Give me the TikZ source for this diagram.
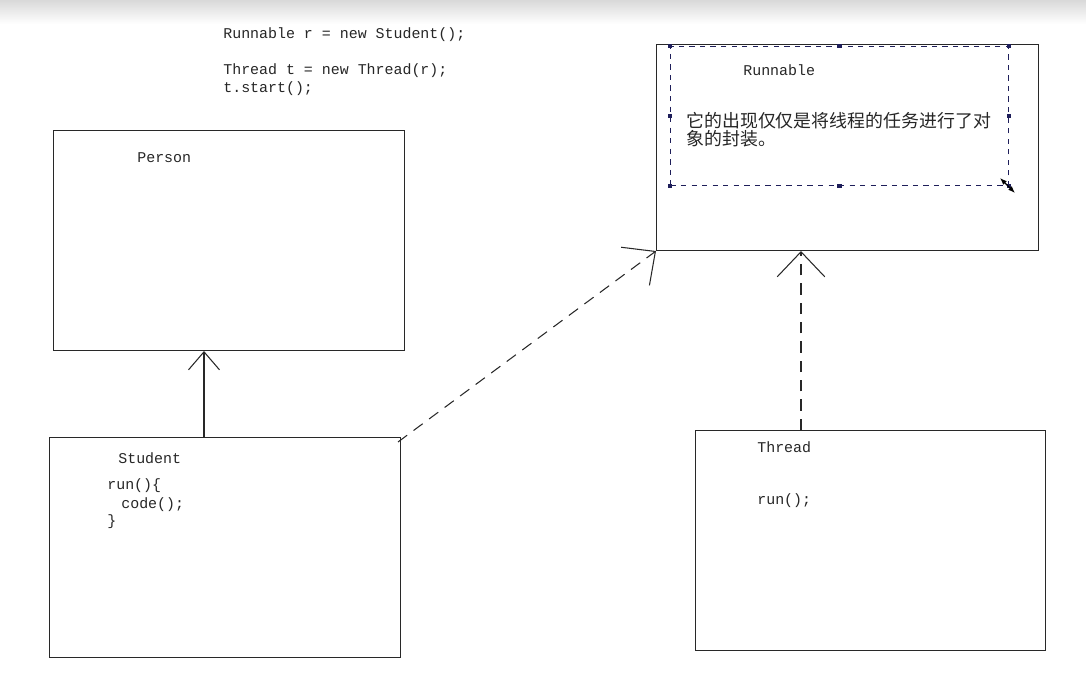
\documentclass[tikz,border=0pt]{standalone}
\usepackage{fontspec}
\usepackage{xcolor}
\usepackage{tikz}
\setmonofont{Liberation Mono}
\newfontfamily\cjk{Noto Sans CJK SC}
\definecolor{linecolor}{RGB}{40, 40, 40}
\definecolor{selcolor}{RGB}{30, 30, 90}
\usetikzlibrary{arrows.meta, calc}

\begin{document}
\begin{tikzpicture}[x=0.02cm, y=-0.02cm,
    classbox/.style={rectangle, draw=linecolor, line width=0.6pt, inner sep=0pt, anchor=north west},
    code/.style={font=\ttfamily\fontsize{8.5}{10}\selectfont, inner sep=0pt, anchor=west, text=black!85},
    note/.style={font=\cjk\fontsize{10.2}{12}\selectfont, inner sep=0pt, anchor=west, text=black!85},
    handle/.style={fill=selcolor, inner sep=0pt, minimum size=2.5pt},
    extends/.style={draw=linecolor, line width=0.6pt, -{Straight Barb[length=0.36cm, width=0.62cm]}},
    implements/.style={draw=linecolor, line width=0.6pt, dash pattern=on 6.5pt off 4.5pt, -{Straight Barb[length=0.5cm, width=0.95cm]}}
]
    \useasboundingbox (0,0) rectangle (1086,675);
    \shade[top color=gray!30, bottom color=white] (0,0) rectangle (1086,24);

    % Code at the top
    \node[code] (c1) at (223,35) {Runnable r = new Student();};
    \node[code] (c2) at (223,71) {Thread t = new Thread(r);};
    \node[code] (c3) at (223,89) {t.start();};

    % Classes
    \node[classbox, minimum width=7.02cm, minimum height=4.4cm] (person) at (53,130) {};
    \node[classbox, minimum width=7.02cm, minimum height=4.4cm] (student) at (49,437) {};
    \node[classbox, minimum width=7.64cm, minimum height=4.12cm] (runnable) at (656,44) {};
    \node[classbox, minimum width=7.0cm, minimum height=4.4cm] (thread) at (695,430) {};

    % Class texts
    \node[code] (personname) at (137,158) {Person};
    \node[code] (studentname) at (118,458) {Student};
    \node[code] (run1) at (107,486) {run()\{};
    \node[code] (run2) at (121,505) {code();};
    \node[code] (run3) at (107,522) {\}};
    \node[code] (runnablename) at (743,70) {Runnable};
    \node[code] (threadname) at (757,447) {Thread};
    \node[code] (run4) at (757,501) {run();};

    % Selected text box
    \node[rectangle, draw=selcolor, dashed, line width=0.5pt, inner sep=0pt, anchor=north west,
          minimum width=6.76cm, minimum height=2.78cm] (sel) at (670,46) {};
    \node[note] (n1) at (686,121) {它的出现仅仅是将线程的任务进行了对};
    \node[note] (n2) at (686,139) {象的封装。};
    \foreach \p in {north west, north, north east, west, east, south west, south, south east}
        \node[handle] at (sel.\p) {};
    \draw[{Latex[length=4pt]}-{Latex[length=4pt]}, line width=0.7pt] (1000,178) -- (1015,193);

    % Arrows
    \coordinate (inh) at (204,437);
    \coordinate (impl1) at (398,442);
    \coordinate (impl2) at (801,430);
    \draw[extends] (inh) -- (inh |- person.south);
    \draw[implements] (impl1) -- (runnable.south west);
    \draw[implements] (impl2) -- (impl2 |- runnable.south);
\end{tikzpicture}
\end{document}
